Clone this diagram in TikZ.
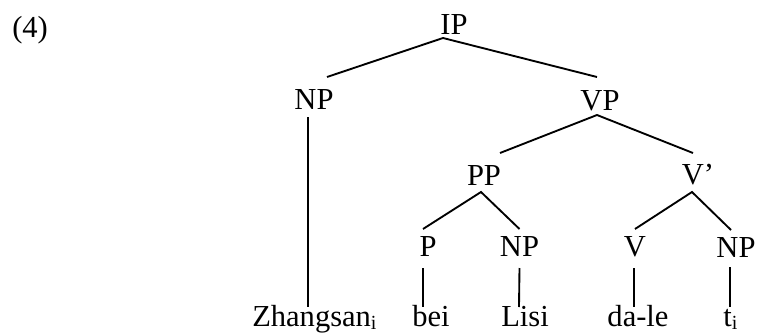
\documentclass[tikz,border=0pt]{standalone}
\usepackage{fontspec}
\setmainfont{Liberation Serif}
\newcommand\mysubi{\raisebox{-2.5pt}{\fontsize{15pt}{15pt}\selectfont i}}
\begin{document}
\begin{tikzpicture}[x=0.75pt,y=-0.75pt,
  lab/.style={inner sep=0pt,anchor=base,font=\fontsize{22.9pt}{27pt}\selectfont},
  labw/.style={lab,anchor=base west},
  branch/.style={line width=1.4pt,line cap=butt}]
\useasboundingbox (0,0) rectangle (758,333);
% labels
\node[labw] (ex) at (12,37) {(4)};
\node[lab] (IP) at (454,34) {IP};
\node[lab] (NPa) at (314,109) {NP};
\node[lab] (VP) at (600,110) {VP};
\node[lab] (PP) at (484,185) {PP};
\node[lab] (Vbar) at (698,184) {V’};
\node[lab] (P) at (428,256) {P};
\node[lab] (NPb) at (519.5,256) {NP};
\node[lab] (V) at (635,256) {V};
\node[lab] (NPc) at (736,257) {NP};
\node[labw] (zs) at (252,326) {Zhangsan\mysubi};
\node[lab] (bei) at (431,326) {bei};
\node[lab] (lisi) at (525,326) {Lisi};
\node[lab] (dale) at (638,326) {da-le};
\node[labw] (ti) at (723,326) {t\mysubi};
% branches
\draw[branch] ([shift={(13,-32)}]NPa.base) -- ([shift={(-11,4)}]IP.base) -- ([shift={(-3,-33)}]VP.base);
\draw[branch] ([shift={(-6,8)}]NPa.base) -- ([shift={(56,-19)}]zs.base west);
\draw[branch] ([shift={(16,-32)}]PP.base) -- ([shift={(-3,5)}]VP.base) -- ([shift={(-5,-31)}]Vbar.base);
\draw[branch] ([shift={(-5,-27)}]P.base) -- ([shift={(-3,7)}]PP.base) -- ([shift={(0,-27)}]NPb.base);
\draw[branch] ([shift={(0,-27)}]V.base) -- ([shift={(-6,8)}]Vbar.base) -- ([shift={(-5,-27)}]NPc.base);
\draw[branch] ([shift={(-5,12)}]P.base) -- ([shift={(-8,-19)}]bei.base);
\draw[branch] ([shift={(0,12)}]NPb.base) -- ([shift={(-6,-19)}]lisi.base);
\draw[branch] ([shift={(-1,12)}]V.base) -- ([shift={(-4,-19)}]dale.base);
\draw[branch] ([shift={(-6,10)}]NPc.base) -- ([shift={(7,-19)}]ti.base west);
\end{tikzpicture}
\end{document}
